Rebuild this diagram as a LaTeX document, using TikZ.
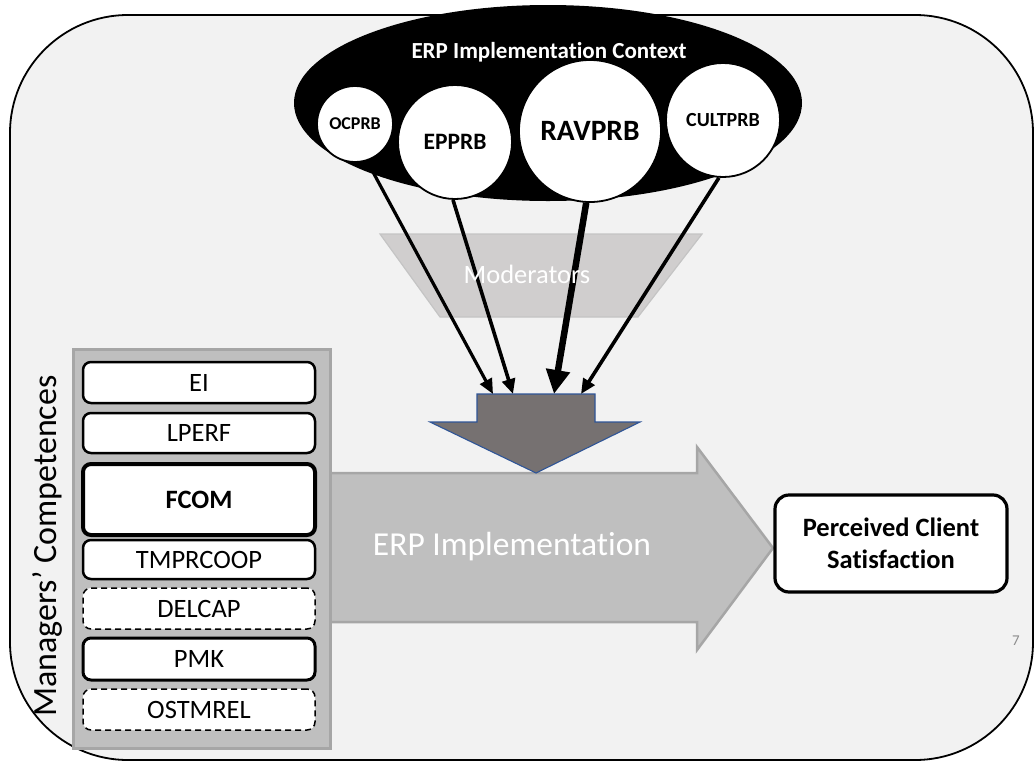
\documentclass[tikz,border=0pt]{standalone}
\usepackage{fontspec}
\setmainfont{Carlito}[Ligatures=NoCommon]
\usetikzlibrary{shapes.geometric,arrows.meta}

\definecolor{framebg}{HTML}{F2F2F2}
\definecolor{modfill}{HTML}{D0CECE}
\definecolor{modline}{HTML}{C4C4C4}
\definecolor{downfill}{HTML}{767171}
\definecolor{downline}{HTML}{2F5597}
\definecolor{panelfill}{HTML}{BFBFBF}
\definecolor{panelline}{HTML}{A6A6A6}
\definecolor{pagenum}{HTML}{8C8C8C}

\newcommand{\fs}[1]{\fontsize{#1}{1.2\dimexpr#1pt\relax}\selectfont}

\tikzset{
  prbcircle/.style={circle, fill=white, draw=black, line width=1.8, inner sep=0pt, font=\bfseries},
  compbox/.style={rectangle, rounded corners=8, fill=white, draw=black, minimum width=232,
                  inner sep=0pt, font=\fs{26.5}},
  solidbox/.style={compbox, line width=2.5},
  dashbox/.style={compbox, line width=1.5, dashed, dash pattern=on 6pt off 4pt},
  infl/.style={line width=3.2, -{Triangle[length=15, width=13]}},
}

\begin{document}
\begin{tikzpicture}[x=1pt, y=-1pt]
\useasboundingbox (0,0) rectangle (1034,761);

% slide frame
\draw[line width=1.8, fill=framebg, rounded corners=118] (10,15) rectangle (1033,760);

% implementation context
\node[ellipse, fill=black, minimum width=508, minimum height=196, inner sep=0pt] (ctx) at (548,103) {};
\node[anchor=base, text=white, font=\bfseries\fs{23}] (ctxlabel) at (549,58) {ERP Implementation Context};

\node[prbcircle, minimum size=76, font=\bfseries\fs{18}] (ocprb) at (355,124) {OCPRB};
\node[prbcircle, minimum size=114, font=\bfseries\fs{23.5}] (epprb) at (455,142) {EPPRB};
\node[prbcircle, minimum size=142, font=\bfseries\fs{29.5}] (ravprb) at (590,131) {RAVPRB};
\node[prbcircle, minimum size=114, font=\bfseries\fs{20}] (cultprb) at (723,120) {CULTPRB};

% moderators band
\draw[fill=modfill, draw=modline, line width=1.2] (380,234) -- (702,234) -- (638,317) -- (440,317) -- cycle;

% main implementation arrow
\draw[fill=panelfill, draw=panelline, line width=2.5]
  (320,473) -- (697,473) -- (697,447) -- (773,548) -- (697,650) -- (697,622) -- (320,622) -- cycle;
\node[anchor=base, text=white, font=\fs{33.5}] (erplabel) at (512,555) {ERP Implementation};

% moderating arrow
\draw[fill=downfill, draw=downline, line width=1.1]
  (477,394) -- (595,394) -- (595,422) -- (640,422) -- (536,473) -- (430,422) -- (477,422) -- cycle;
\coordinate (e1) at (493,394);
\coordinate (e2) at (513,394);
\coordinate (e3) at (554,394);
\coordinate (e4) at (581,394);

\draw[infl] (ocprb.-72) -- (e1);
\draw[infl, line width=3.6] (epprb.-92) -- (e2);
\draw[line width=6.5, -{Triangle[length=24, width=23]}] (ravprb.-93) -- (e3);
\draw[infl, line width=3.6] (cultprb.-94) -- (e4);

% band label sits above the influence arrows
\node[anchor=base, text=white, font=\fs{26.5}] (modlabel) at (527,283) {Moderators};

% competences panel
\draw[fill=panelfill, draw=panelline, line width=3] (73,349) rectangle (330,748);
\node[rotate=90, font=\fs{34}] (mgrlabel) at (47,546) {Managers’ Competences};

\node[solidbox, minimum height=41] (ei) at (199,382.5) {EI};
\node[solidbox, minimum height=40] (lperf) at (199,433) {LPERF};
\node[compbox, line width=4, minimum height=71, font=\bfseries\fs{26.5}] (fcom) at (199,499.5) {FCOM};
\node[solidbox, minimum height=39] (tmprcoop) at (199,559.5) {TMPRCOOP};
\node[dashbox, minimum height=41] (delcap) at (199,608.5) {DELCAP};
\node[solidbox, line width=3, minimum height=42] (pmk) at (199,659) {PMK};
\node[dashbox, minimum height=41] (ostmrel) at (199,709.5) {OSTMREL};

% outcome
\node[rectangle, rounded corners=14, fill=white, draw=black, line width=3.2,
      minimum width=232, minimum height=97, align=center, inner sep=0pt,
      font=\bfseries\fontsize{26.5}{32}\selectfont] (pcs) at (891,543.5) {Perceived Client\\Satisfaction};

% page number
\node[text=pagenum, font=\fs{15}] (pageno) at (1016,641) {7};
\end{tikzpicture}
\end{document}
